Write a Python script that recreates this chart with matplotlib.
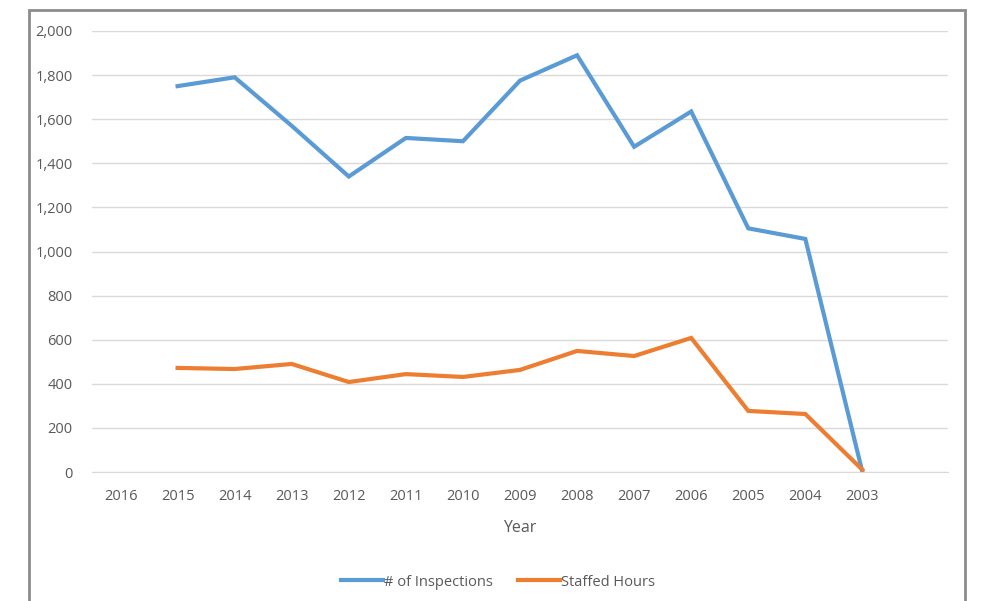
import matplotlib.pyplot as plt
from matplotlib.patches import Rectangle
from matplotlib.ticker import FuncFormatter

# data
years = ['2016', '2015', '2014', '2013', '2012', '2011', '2010', '2009',
         '2008', '2007', '2006', '2005', '2004', '2003']
inspections = [None, 1750, 1790, 1570, 1340, 1515, 1500, 1775,
               1890, 1475, 1635, 1105, 1057, 0]
staffed_hours = [None, 472, 467, 490, 408, 444, 431, 463,
                 549, 526, 608, 277, 263, 10]

plt.rcParams['font.family'] = ['Open Sans', 'DejaVu Sans']
text_col = '#595959'

fig = plt.figure(figsize=(9.81, 6.01), dpi=100)
ax = fig.add_axes([92 / 981, 1 - 472 / 601, (948 - 92) / 981, (472 - 31) / 601])

x = range(len(years))
xs = [i for i in x if inspections[i] is not None]
ax.plot(xs, [inspections[i] for i in xs], color='#5B9BD5', lw=3,
        solid_joinstyle='miter', label='# of Inspections')
ax.plot(xs, [staffed_hours[i] for i in xs], color='#ED7D31', lw=3,
        solid_joinstyle='miter', label='Staffed Hours')

ax.set_xlim(-0.5, 14.5)
ax.set_ylim(0, 2000)
ax.set_yticks(range(0, 2001, 200))
ax.yaxis.set_major_formatter(FuncFormatter(lambda v, p: f'{int(v):,}'))
ax.set_xticks(list(x))
ax.set_xticklabels(years)
ax.grid(axis='y', color='#D9D9D9', lw=1)
ax.set_axisbelow(True)
for s in ['top', 'right', 'left']:
    ax.spines[s].set_visible(False)
ax.spines['bottom'].set_color('#D9D9D9')
ax.tick_params(axis='both', length=0, colors=text_col, labelsize=10.5)
ax.tick_params(axis='y', pad=14)
ax.tick_params(axis='x', pad=12)
ax.set_xlabel('Year', color=text_col, fontsize=11.5, labelpad=12)

ax.legend(loc='center', bbox_to_anchor=(498 / 981, 1 - 582 / 601),
          bbox_transform=fig.transFigure, ncol=2, frameon=False,
          fontsize=10.5, labelcolor=text_col, handlelength=2.9,
          handletextpad=0.05, columnspacing=1.7)

# outer chart border (bottom edge runs off the image)
fig.patches.append(Rectangle((29 / 981, -0.05), (965 - 29) / 981, 1.05 - 10 / 601,
                             transform=fig.transFigure, fill=False,
                             edgecolor='#8C8C8C', lw=2))

fig.savefig('out.png', dpi=100)
